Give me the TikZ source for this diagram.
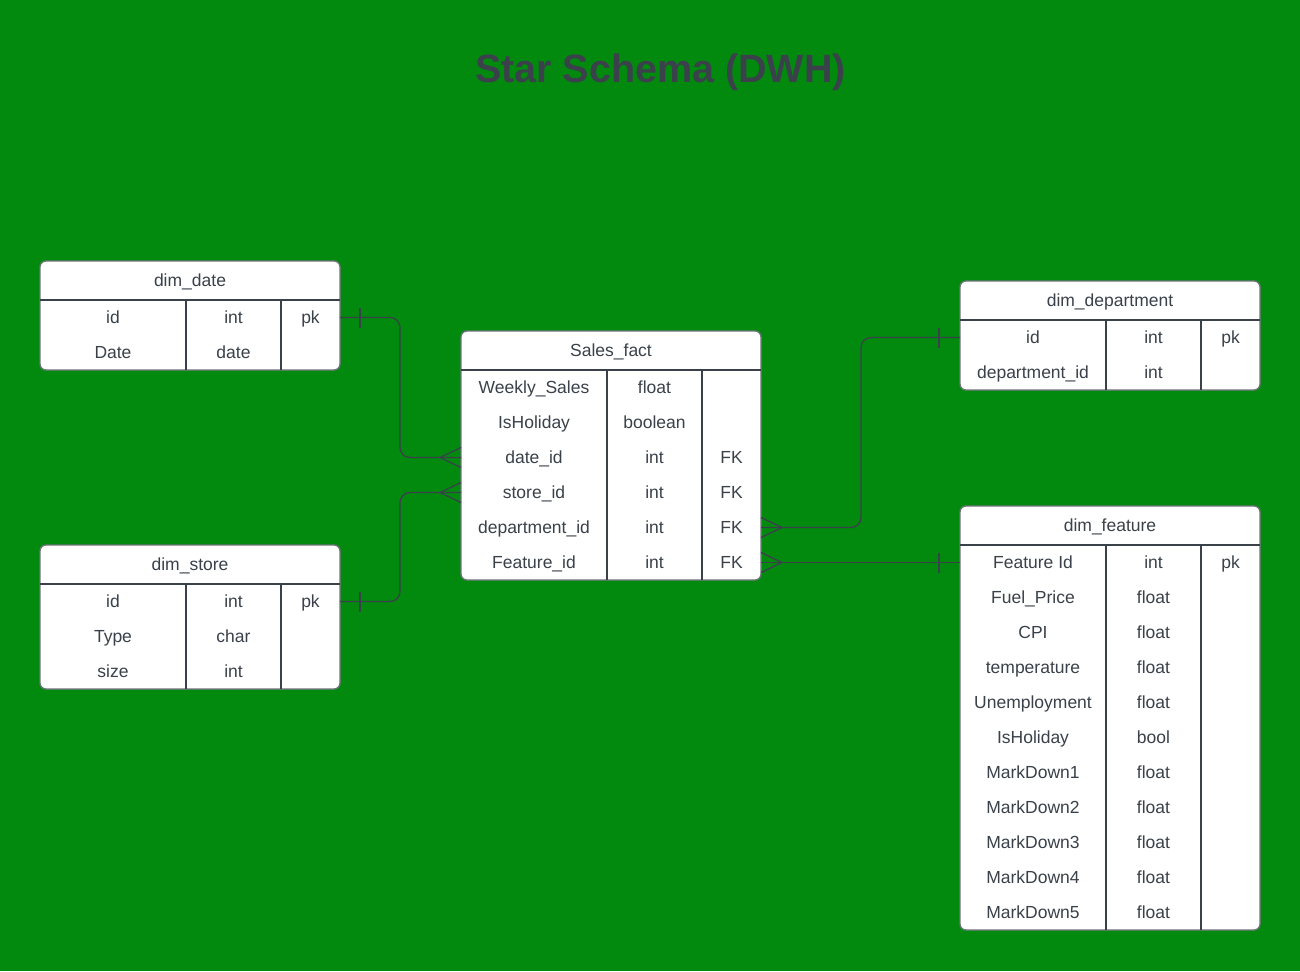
\documentclass[tikz,border=0pt]{standalone}
\usepackage{fontspec}
\setmainfont{Liberation Sans}
\definecolor{bggreen}{HTML}{028A0F}
\definecolor{ink}{HTML}{3A414A}
\definecolor{boxline}{HTML}{6E737A}
\newcommand\erdtable[6]{%
  \pgfmathsetmacro\tabh{39+35*#5}%
  \node[tablebox, minimum height=\tabh pt] (#1) at (#2,#3) {};
  \draw[rule] (#2,#3+39) -- ++(300,0);
  \draw[rule] (#2+146,#3+39) -- (#2+146,#3+\tabh);
  \draw[rule] (#2+241,#3+39) -- (#2+241,#3+\tabh);
  \node[celltext] (#1-title) at (#2+150,#3+25.5) {#4};
  \foreach \a/\b/\c [count=\i] in {#6} {%
    \pgfmathsetmacro\ry{#3+56.5+35*(\i-1)}
    \coordinate (#1-r\i) at (#2,\ry);
    \node[celltext] (#1-\i-a) at (#2+73,\ry+6) {\a};
    \node[celltext] (#1-\i-b) at (#2+193.5,\ry+6) {\b};
    \node[celltext] (#1-\i-c) at (#2+270.5,\ry+6) {\c};
  }%
}
\begin{document}
\begin{tikzpicture}[x=1pt,y=-1pt,
  tablebox/.style={draw=boxline, fill=white, line width=1.3pt, rounded corners=6pt,
    anchor=north west, minimum width=300pt, inner sep=0pt, outer sep=0pt},
  rule/.style={draw=ink, line width=1.2pt},
  celltext/.style={anchor=base, inner sep=0pt, text=ink, font=\fontsize{17.5}{21}\selectfont},
  conn/.style={draw=ink, line width=1.3pt, rounded corners=10pt},
  erdtickR/.pic={\draw[conn] (20,-10) -- (20,10);},
  erdtickL/.pic={\draw[conn] (-21,-10) -- (-21,10);},
  crowL/.pic={\draw[conn, rounded corners=0pt] (0,-10) -- (-21,0) -- (0,10);},
  crowR/.pic={\draw[conn, rounded corners=0pt] (0,-10) -- (21,0) -- (0,10);}
]
\useasboundingbox (0,0) rectangle (1300,971);
\fill[bggreen] (0,0) rectangle (1300,971);

\node[anchor=base, text=ink, font=\fontsize{39.5}{47}\selectfont\bfseries] (title) at (660.5,83) {Star Schema (DWH)};

\erdtable{date}{40}{261}{dim\_date}{2}{id/int/pk, Date/date/}
\erdtable{store}{40}{545}{dim\_store}{3}{id/int/pk, Type/char/, size/int/}
\erdtable{fact}{461}{331}{Sales\_fact}{6}{Weekly\_Sales/float/, IsHoliday/boolean/, date\_id/int/FK, store\_id/int/FK, department\_id/int/FK, Feature\_id/int/FK}
\erdtable{dept}{960}{281}{dim\_department}{2}{id/int/pk, department\_id/int/}
\erdtable{feat}{960}{506}{dim\_feature}{11}{Feature Id/int/pk, Fuel\_Price/float/, CPI/float/, temperature/float/, Unemployment/float/, IsHoliday/bool/, MarkDown1/float/, MarkDown2/float/, MarkDown3/float/, MarkDown4/float/, MarkDown5/float/}

% connectors
\draw[conn] (date.east |- date-r1) -- ++(60,0) |- (fact.west |- fact-r3);
\path (date.east |- date-r1) pic{erdtickR};
\path (fact.west |- fact-r3) pic{crowL};

\draw[conn] (store.east |- store-r1) -- ++(60,0) |- (fact.west |- fact-r4);
\path (store.east |- store-r1) pic{erdtickR};
\path (fact.west |- fact-r4) pic{crowL};

\draw[conn] (fact.east |- fact-r5) -- ++(100,0) |- (dept.west |- dept-r1);
\path (fact.east |- fact-r5) pic{crowR};
\path (dept.west |- dept-r1) pic{erdtickL};

\draw[conn] (fact.east |- fact-r6) -- (feat.west |- feat-r1);
\path (fact.east |- fact-r6) pic{crowR};
\path (feat.west |- feat-r1) pic{erdtickL};
\end{tikzpicture}
\end{document}
